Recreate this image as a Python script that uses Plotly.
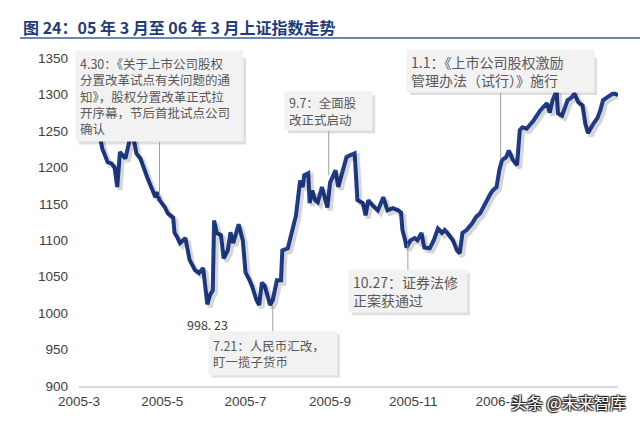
import plotly.graph_objects as go

# ---------------- data ----------------
dates = [
    "2005-03-01", "2005-03-04", "2005-03-09", "2005-03-11", "2005-03-15", "2005-03-17", "2005-03-18",
    "2005-03-22", "2005-03-25", "2005-03-27", "2005-03-29", "2005-03-31", "2005-04-04", "2005-04-07",
    "2005-04-09", "2005-04-11", "2005-04-12", "2005-04-15", "2005-04-17", "2005-04-20", "2005-04-24",
    "2005-04-26", "2005-04-27", "2005-04-29", "2005-05-03", "2005-05-05", "2005-05-09", "2005-05-10",
    "2005-05-12", "2005-05-14", "2005-05-18", "2005-05-21", "2005-05-25", "2005-05-28", "2005-05-31",
    "2005-06-01", "2005-06-02", "2005-06-03", "2005-06-05", "2005-06-07", "2005-06-08", "2005-06-10",
    "2005-06-13", "2005-06-15", "2005-06-18", "2005-06-20", "2005-06-22", "2005-06-26", "2005-06-29",
    "2005-07-01", "2005-07-04", "2005-07-06", "2005-07-09", "2005-07-11", "2005-07-13", "2005-07-15",
    "2005-07-17", "2005-07-19", "2005-07-21", "2005-07-24", "2005-07-27", "2005-07-28", "2005-08-01",
    "2005-08-04", "2005-08-07", "2005-08-10", "2005-08-12", "2005-08-13", "2005-08-16", "2005-08-17",
    "2005-08-19", "2005-08-21", "2005-08-23", "2005-08-26", "2005-08-30", "2005-09-01", "2005-09-05",
    "2005-09-07", "2005-09-10", "2005-09-13", "2005-09-15", "2005-09-19", "2005-09-21", "2005-09-25",
    "2005-09-27", "2005-09-29", "2005-10-02", "2005-10-06", "2005-10-10", "2005-10-13", "2005-10-17",
    "2005-10-21", "2005-10-23", "2005-10-24", "2005-10-26", "2005-10-27", "2005-10-30", "2005-11-02",
    "2005-11-04", "2005-11-07", "2005-11-09", "2005-11-13", "2005-11-16", "2005-11-19", "2005-11-22",
    "2005-11-24", "2005-11-26", "2005-11-30", "2005-12-03", "2005-12-05", "2005-12-07", "2005-12-10",
    "2005-12-14", "2005-12-17", "2005-12-20", "2005-12-22", "2005-12-25", "2005-12-27", "2005-12-29",
    "2006-01-01", "2006-01-03", "2006-01-05", "2006-01-08", "2006-01-10", "2006-01-13", "2006-01-16",
    "2006-01-18", "2006-01-20", "2006-01-23", "2006-01-28", "2006-02-02", "2006-02-07", "2006-02-09",
    "2006-02-11", "2006-02-14", "2006-02-15", "2006-02-18", "2006-02-22", "2006-02-25", "2006-02-27",
    "2006-03-02", "2006-03-05", "2006-03-07", "2006-03-09", "2006-03-13", "2006-03-16", "2006-03-18",
    "2006-03-20", "2006-03-23", "2006-03-27", "2006-03-29", "2006-03-31",
]
index_values = [
    1305, 1318, 1330, 1292, 1255, 1234, 1226,
    1207, 1205, 1200, 1173, 1221, 1212, 1237,
    1248, 1230, 1219, 1212, 1200, 1186, 1168,
    1159, 1166, 1155, 1145, 1137, 1131, 1110,
    1104, 1096, 1103, 1073, 1059, 1055, 1062,
    1042, 1022, 1012, 1025, 1031, 1127, 1110,
    1107, 1075, 1086, 1111, 1096, 1122, 1100,
    1056, 1045, 1036, 1018, 1011, 1042, 1038,
    1025, 1011, 1018, 1045, 1045, 1086, 1089,
    1114, 1134, 1182, 1173, 1189, 1192, 1151,
    1168, 1155, 1152, 1173, 1145, 1179, 1196,
    1173, 1192, 1214, 1216, 1219, 1155, 1151,
    1134, 1155, 1148, 1141, 1159, 1141, 1144,
    1141, 1138, 1114, 1100, 1090, 1100, 1103,
    1100, 1110, 1090, 1089, 1100, 1116, 1110,
    1114, 1110, 1100, 1086, 1082, 1110, 1114,
    1123, 1132, 1137, 1145, 1155, 1162, 1168,
    1173, 1196, 1210, 1214, 1223, 1210, 1203,
    1251, 1255, 1253, 1264, 1278, 1288, 1275,
    1292, 1305, 1274, 1271, 1292, 1296, 1301,
    1289, 1285, 1260, 1247, 1260, 1268, 1278,
    1292, 1296, 1301, 1301, 1299,
]

x_tick_vals = ["2005-03-01", "2005-05-01", "2005-07-01", "2005-09-01", "2005-11-01", "2006-01-01"]
x_tick_text = ["2005-3", "2005-5", "2005-7", "2005-9", "2005-11", "2006-1"]
y_tick_vals = [900, 950, 1000, 1050, 1100, 1150, 1200, 1250, 1300, 1350]

# event annotations: (date, value pointed at, text)
event_dates = ["2005-04-29", "2005-08-31", "2006-01-04", "2005-07-21", "2005-10-28"]
event_values = [1160, 1189, 1210, 1011, 1096]
event_texts = [
    "4.30：《关于上市公司股权<br>分置改革试点有关问题的通<br>知》，股权分置改革正式拉<br>开序幕，节后首批试点公司<br>确认",
    "9.7：全面股<br>改正式启动",
    "1.1：《上市公司股权激励<br>管理办法（试行）》施行",
    "7.21：人民币汇改，<br>盯一揽子货币",
    "10.27：证券法修<br>正案获通过",
]
min_date = "2005-06-03"
min_value = 998.23

title_text = "图 24：05 年 3 月至 06 年 3 月上证指数走势"
watermark = "头条 @未来智库"

# ---------------- styling ----------------
LINE_COLOR = "#1f3d8c"
TEXT_GRAY = "#595959"
CJK = "Noto Sans CJK SC"
X_RANGE = ["2005-03-01", "2006-03-31"]
Y_RANGE = [900, 1350]
PAD = 4

fig = go.Figure()

# soft shadow of the line (drawn on slightly shifted overlay axes)
fig.add_trace(go.Scatter(
    x=dates, y=index_values, mode="lines", xaxis="x2", yaxis="y2",
    line=dict(color="rgba(0,0,0,0.16)", width=5), hoverinfo="skip", showlegend=False,
))
fig.add_trace(go.Scatter(
    x=dates, y=index_values, mode="lines",
    line=dict(color=LINE_COLOR, width=4), showlegend=False,
))

# annotation box styles: (width, height, font size, ay)
box_styles = [
    (159, 82, 12.5, -100),
    (79, 30, 12.5, -64),
    (179, 34, 14, -89),
    (120, 35, 12.5, 48),
    (110, 34, 14, 48),
]

annotations = []
shapes = [dict(
    type="line", xref="paper", yref="paper",
    x0=(20 - 79) / 539, x1=(640 - 79) / 539, y0=(386 - 38) / 328, y1=(386 - 38) / 328,
    line=dict(color="#3a5f9a", width=1.5),
)]
for d, v, t, (w, h, fs, ay) in zip(event_dates, event_values, event_texts, box_styles):
    ow, oh = w + 2 * PAD, h + 2 * PAD
    # drop shadow of the callout box, anchored at the same data point
    shapes.append(dict(
        type="rect", layer="above", xref="x", yref="y",
        xsizemode="pixel", ysizemode="pixel", xanchor=d, yanchor=v,
        x0=-ow / 2 + 3, x1=ow / 2 + 3, y0=-ay - oh / 2 - 3, y1=-ay + oh / 2 - 3,
        fillcolor="rgba(0,0,0,0.13)", line=dict(width=0),
    ))
    annotations.append(dict(
        x=d, y=v, xref="x", yref="y", text=t, showarrow=True, arrowhead=0,
        arrowwidth=1, arrowcolor="#a0a0a0", standoff=0,
        ax=0, ay=ay, width=w, height=h, borderpad=PAD, align="left",
        bgcolor="#f2f2f2", font=dict(family=CJK, size=fs, color=TEXT_GRAY),
    ))

annotations.append(dict(
    x=min_date, y=min_value, xref="x", yref="y", text=f"{min_value:.2f}".replace(".", ". "),
    showarrow=False, yshift=-10, font=dict(family=CJK, size=12.5, color="#404040"),
))

annotations.append(dict(
    x=1.0, y=-0.05, xref="paper", yref="paper", xanchor="right", yanchor="middle",
    text=watermark, showarrow=False, xshift=10,
    font=dict(family=CJK, size=16, color="white",
              shadow="1px 1px 1px #222, -1px -1px 1px #222, 1px -1px 1px #222, -1px 1px 1px #222"),
))

fig.update_layout(
    width=640, height=424,
    margin=dict(l=79, r=22, t=58, b=38),
    paper_bgcolor="white", plot_bgcolor="white",
    title=dict(
        text=f"<b>{title_text}</b>", x=23 / 640, xanchor="left", xref="container",
        y=1 - 28 / 424, yanchor="middle", yref="container",
        font=dict(family=CJK, size=16, color="#1f3d7a"),
    ),
    xaxis=dict(
        type="date", range=X_RANGE, tickvals=x_tick_vals, ticktext=x_tick_text,
        showgrid=False, zeroline=False, showline=True, linecolor="#d9d9d9", linewidth=1.5,
        ticks="", ticklabelstandoff=2,
        tickfont=dict(family="Liberation Sans, Arial", size=13.5, color="#404040"),
    ),
    yaxis=dict(
        range=Y_RANGE, tickvals=y_tick_vals, showgrid=False, zeroline=False, showline=False,
        ticks="", ticklabelstandoff=10,
        tickfont=dict(family="Liberation Sans, Arial", size=13.5, color="#404040"),
    ),
    xaxis2=dict(type="date", overlaying="x", range=["2005-02-27", "2006-03-29"], visible=False),
    yaxis2=dict(overlaying="y", range=[904, 1354], visible=False),
    annotations=annotations,
    shapes=shapes,
)

fig.write_html("out.html")
